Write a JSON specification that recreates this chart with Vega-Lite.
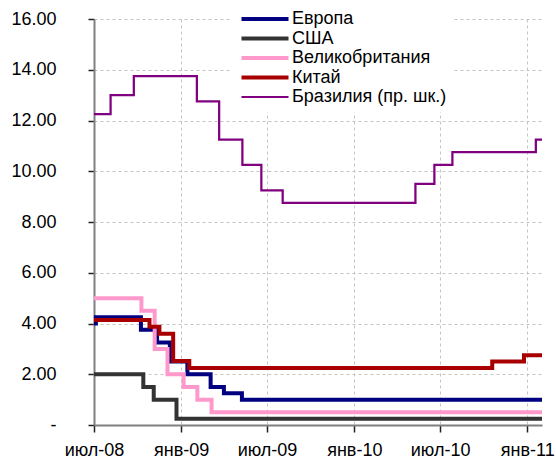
{
  "$schema": "https://vega.github.io/schema/vega-lite/v6.json",
  "autosize": "none",
  "padding": {"left": 94, "top": 19, "right": 14, "bottom": 43},
  "width": 448,
  "height": 406,
  "background": "white",
  "config": {
    "font": "Liberation Sans",
    "view": {"stroke": null},
    "axis": {
      "labelFont": "Liberation Sans",
      "labelFontSize": 18,
      "labelColor": "#000000",
      "domainColor": "#808080",
      "domainWidth": 2,
      "tickColor": "#222222",
      "tickWidth": 1.5,
      "gridColor": "#c4c4c4",
      "gridDash": [3, 3],
      "gridWidth": 1
    }
  },
  "data": {
    "values": [
      {"date": "2008-07-01", "rate": 4.00, "s": "Европа"},
      {"date": "2008-07-05", "rate": 4.25, "s": "Европа"},
      {"date": "2008-10-08", "rate": 3.75, "s": "Европа"},
      {"date": "2008-11-11", "rate": 3.25, "s": "Европа"},
      {"date": "2008-12-08", "rate": 2.50, "s": "Европа"},
      {"date": "2009-01-14", "rate": 2.00, "s": "Европа"},
      {"date": "2009-03-04", "rate": 1.50, "s": "Европа"},
      {"date": "2009-04-01", "rate": 1.25, "s": "Европа"},
      {"date": "2009-05-09", "rate": 1.00, "s": "Европа"},
      {"date": "2011-02-01", "rate": 1.00, "s": "Европа"},

      {"date": "2008-07-01", "rate": 2.00, "s": "США"},
      {"date": "2008-10-13", "rate": 1.50, "s": "США"},
      {"date": "2008-11-04", "rate": 1.00, "s": "США"},
      {"date": "2008-12-22", "rate": 0.25, "s": "США"},
      {"date": "2011-02-01", "rate": 0.25, "s": "США"},

      {"date": "2008-07-01", "rate": 5.00, "s": "Великобритания"},
      {"date": "2008-10-09", "rate": 4.50, "s": "Великобритания"},
      {"date": "2008-11-06", "rate": 3.00, "s": "Великобритания"},
      {"date": "2008-12-03", "rate": 2.00, "s": "Великобритания"},
      {"date": "2009-01-06", "rate": 1.50, "s": "Великобритания"},
      {"date": "2009-02-04", "rate": 1.00, "s": "Великобритания"},
      {"date": "2009-03-06", "rate": 0.50, "s": "Великобритания"},
      {"date": "2011-02-01", "rate": 0.50, "s": "Великобритания"},

      {"date": "2008-07-01", "rate": 4.14, "s": "Китай"},
      {"date": "2008-10-26", "rate": 3.87, "s": "Китай"},
      {"date": "2008-11-16", "rate": 3.60, "s": "Китай"},
      {"date": "2008-12-15", "rate": 2.52, "s": "Китай"},
      {"date": "2009-01-18", "rate": 2.25, "s": "Китай"},
      {"date": "2010-10-19", "rate": 2.50, "s": "Китай"},
      {"date": "2010-12-25", "rate": 2.75, "s": "Китай"},
      {"date": "2011-02-01", "rate": 2.75, "s": "Китай"},

      {"date": "2008-07-01", "rate": 12.25, "s": "Бразилия (пр. шк.)"},
      {"date": "2008-08-05", "rate": 13.00, "s": "Бразилия (пр. шк.)"},
      {"date": "2008-09-23", "rate": 13.75, "s": "Бразилия (пр. шк.)"},
      {"date": "2009-02-03", "rate": 12.75, "s": "Бразилия (пр. шк.)"},
      {"date": "2009-03-22", "rate": 11.25, "s": "Бразилия (пр. шк.)"},
      {"date": "2009-05-10", "rate": 10.25, "s": "Бразилия (пр. шк.)"},
      {"date": "2009-06-19", "rate": 9.25, "s": "Бразилия (пр. шк.)"},
      {"date": "2009-08-03", "rate": 8.75, "s": "Бразилия (пр. шк.)"},
      {"date": "2010-05-10", "rate": 9.50, "s": "Бразилия (пр. шк.)"},
      {"date": "2010-06-19", "rate": 10.25, "s": "Бразилия (пр. шк.)"},
      {"date": "2010-07-27", "rate": 10.75, "s": "Бразилия (пр. шк.)"},
      {"date": "2011-01-19", "rate": 11.25, "s": "Бразилия (пр. шк.)"},
      {"date": "2011-02-01", "rate": 11.25, "s": "Бразилия (пр. шк.)"}
    ]
  },
  "mark": {"type": "line", "interpolate": "step-after", "strokeJoin": "miter", "strokeCap": "butt"},
  "encoding": {
    "x": {
      "field": "date",
      "type": "temporal",
      "scale": {
        "type": "utc",
        "domain": [
          {"year": 2008, "month": 7, "date": 1, "utc": true},
          {"year": 2011, "month": 2, "date": 1, "utc": true}
        ]
      },
      "axis": {
        "title": null,
        "values": [
          {"year": 2008, "month": 7, "date": 1, "utc": true},
          {"year": 2009, "month": 1, "date": 1, "utc": true},
          {"year": 2009, "month": 7, "date": 1, "utc": true},
          {"year": 2010, "month": 1, "date": 1, "utc": true},
          {"year": 2010, "month": 7, "date": 1, "utc": true},
          {"year": 2011, "month": 1, "date": 1, "utc": true}
        ],
        "labelExpr": "(utcmonth(datum.value) == 0 ? 'янв' : 'июл') + '-' + utcFormat(datum.value, '%y')",
        "tickSize": 7,
        "labelPadding": 9,
        "labelFlush": false,
        "labelOverlap": false,
        "grid": true
      }
    },
    "y": {
      "field": "rate",
      "type": "quantitative",
      "scale": {"domain": [0, 16], "nice": false, "zero": true},
      "axis": {
        "title": null,
        "values": [0, 2, 4, 6, 8, 10, 12, 14, 16],
        "labelExpr": "datum.value == 0 ? '-\u00a0\u00a0\u00a0\u00a0' : format(datum.value, '.2f')",
        "tickSize": 6,
        "labelPadding": 32,
        "grid": true
      }
    },
    "color": {
      "field": "s",
      "type": "nominal",
      "scale": {
        "domain": ["Европа", "США", "Великобритания", "Китай", "Бразилия (пр. шк.)"],
        "range": ["#000080", "#333333", "#ff99cc", "#a80000", "#800080"]
      },
      "legend": {
        "title": null,
        "orient": "none",
        "legendX": 138,
        "legendY": -15,
        "fillColor": "white",
        "padding": 6,
        "symbolType": "stroke",
        "symbolSize": 2209,
        "symbolStrokeWidth": 4,
        "symbolOffset": 18,
        "labelFont": "Liberation Sans",
        "labelFontSize": 18,
        "labelColor": "#000000",
        "labelOffset": 18,
        "rowPadding": 1.5,
        "labelLimit": 300,
        "encode": {
          "symbols": {
            "update": {
              "strokeWidth": {"signal": "datum.value === 'Бразилия (пр. шк.)' ? 2 : 4"}
            }
          }
        }
      }
    },
    "strokeWidth": {
      "condition": {"test": "datum.s === 'Бразилия (пр. шк.)'", "value": 2.25},
      "value": 4
    }
  }
}
